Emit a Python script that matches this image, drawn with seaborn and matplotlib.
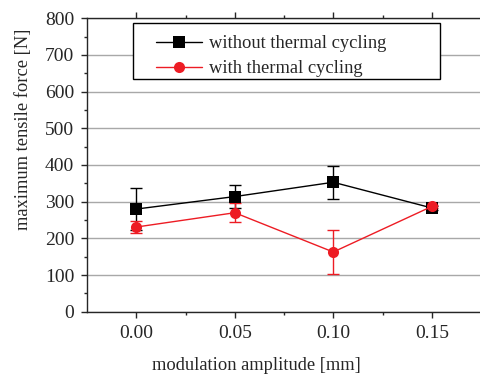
import numpy as np
import pandas as pd
import matplotlib
matplotlib.use("Agg")
import matplotlib.pyplot as plt
import matplotlib.patches as mpatches
import seaborn as sns

# values
amplitude = [0.00, 0.05, 0.10, 0.15]
force_without = [280, 314, 353, 283]
err_without = [56, 31, 45, 5]
force_with = [231, 270, 163, 287]
err_with = [17, 26, 59, 5]

sns.set_style("ticks")
plt.rcParams['font.family'] = ['Liberation Serif', 'DejaVu Serif']
plt.rcParams['font.size'] = 13.3

df = pd.DataFrame({
    "amplitude": amplitude * 2,
    "force": force_without + force_with,
    "series": ["without thermal cycling"] * 4 + ["with thermal cycling"] * 4,
})

fig = plt.figure(figsize=(4.81, 3.78), dpi=100)
ax = fig.add_axes([0.181, 0.175, 0.819, 0.777])

red = "#ed1c24"
ax.errorbar(amplitude, force_without, yerr=err_without, fmt="none", ecolor="black",
            elinewidth=1, capsize=4, capthick=1, zorder=2)
ax.errorbar(amplitude, force_with, yerr=err_with, fmt="none", ecolor=red,
            elinewidth=1, capsize=4, capthick=1, zorder=2)

sns.lineplot(data=df, x="amplitude", y="force", hue="series", style="series",
             palette={"without thermal cycling": "black", "with thermal cycling": red},
             markers={"without thermal cycling": "s", "with thermal cycling": "o"},
             dashes=False, markersize=8, markeredgewidth=0, linewidth=1,
             ax=ax, zorder=3)

ax.set_xlim(-0.025, 0.175)
ax.set_ylim(0, 800)
ax.set_xticks([0.00, 0.05, 0.10, 0.15])
ax.set_xticklabels(["0.00", "0.05", "0.10", "0.15"])
ax.set_xticks([0.025, 0.075, 0.125], minor=True)
ax.set_yticks(range(0, 801, 100))
ax.set_yticks(range(50, 800, 100), minor=True)
ax.yaxis.grid(True, color="#a8a8a8", linewidth=1)
ax.set_axisbelow(True)

ax.spines["right"].set_visible(False)
ax.spines["top"].set_visible(True)
for s in ["left", "bottom", "top"]:
    ax.spines[s].set_linewidth(1)
ax.tick_params(which="major", direction="out", length=4.3, width=1, top=True,
               labelsize=14, pad=5)
ax.tick_params(which="minor", direction="out", length=2, width=1, top=True)
ax.tick_params(axis="y", which="both", right=False)

ax.set_xlabel("modulation amplitude [mm]", fontsize=13.3, labelpad=13)
ax.xaxis.set_label_coords(0.43, -0.155)
ax.set_ylabel("maximum tensile force [N]", fontsize=13.3)
ax.yaxis.set_label_coords(-0.14, 0.62)

# legend frame drawn as a plain box, legend itself without frame
box = mpatches.Rectangle((0.117, 0.792), 0.779, 0.191, transform=ax.transAxes,
                         facecolor="white", edgecolor="black", linewidth=1, zorder=4)
ax.add_patch(box)
leg = ax.legend(loc="upper left", bbox_to_anchor=(0.175, 0.942), frameon=False,
                fontsize=13.3, handlelength=2.5, handletextpad=0.35,
                borderpad=0, labelspacing=0.45, borderaxespad=0)
leg.set_zorder(5)

fig.savefig("out.png", dpi=100)
